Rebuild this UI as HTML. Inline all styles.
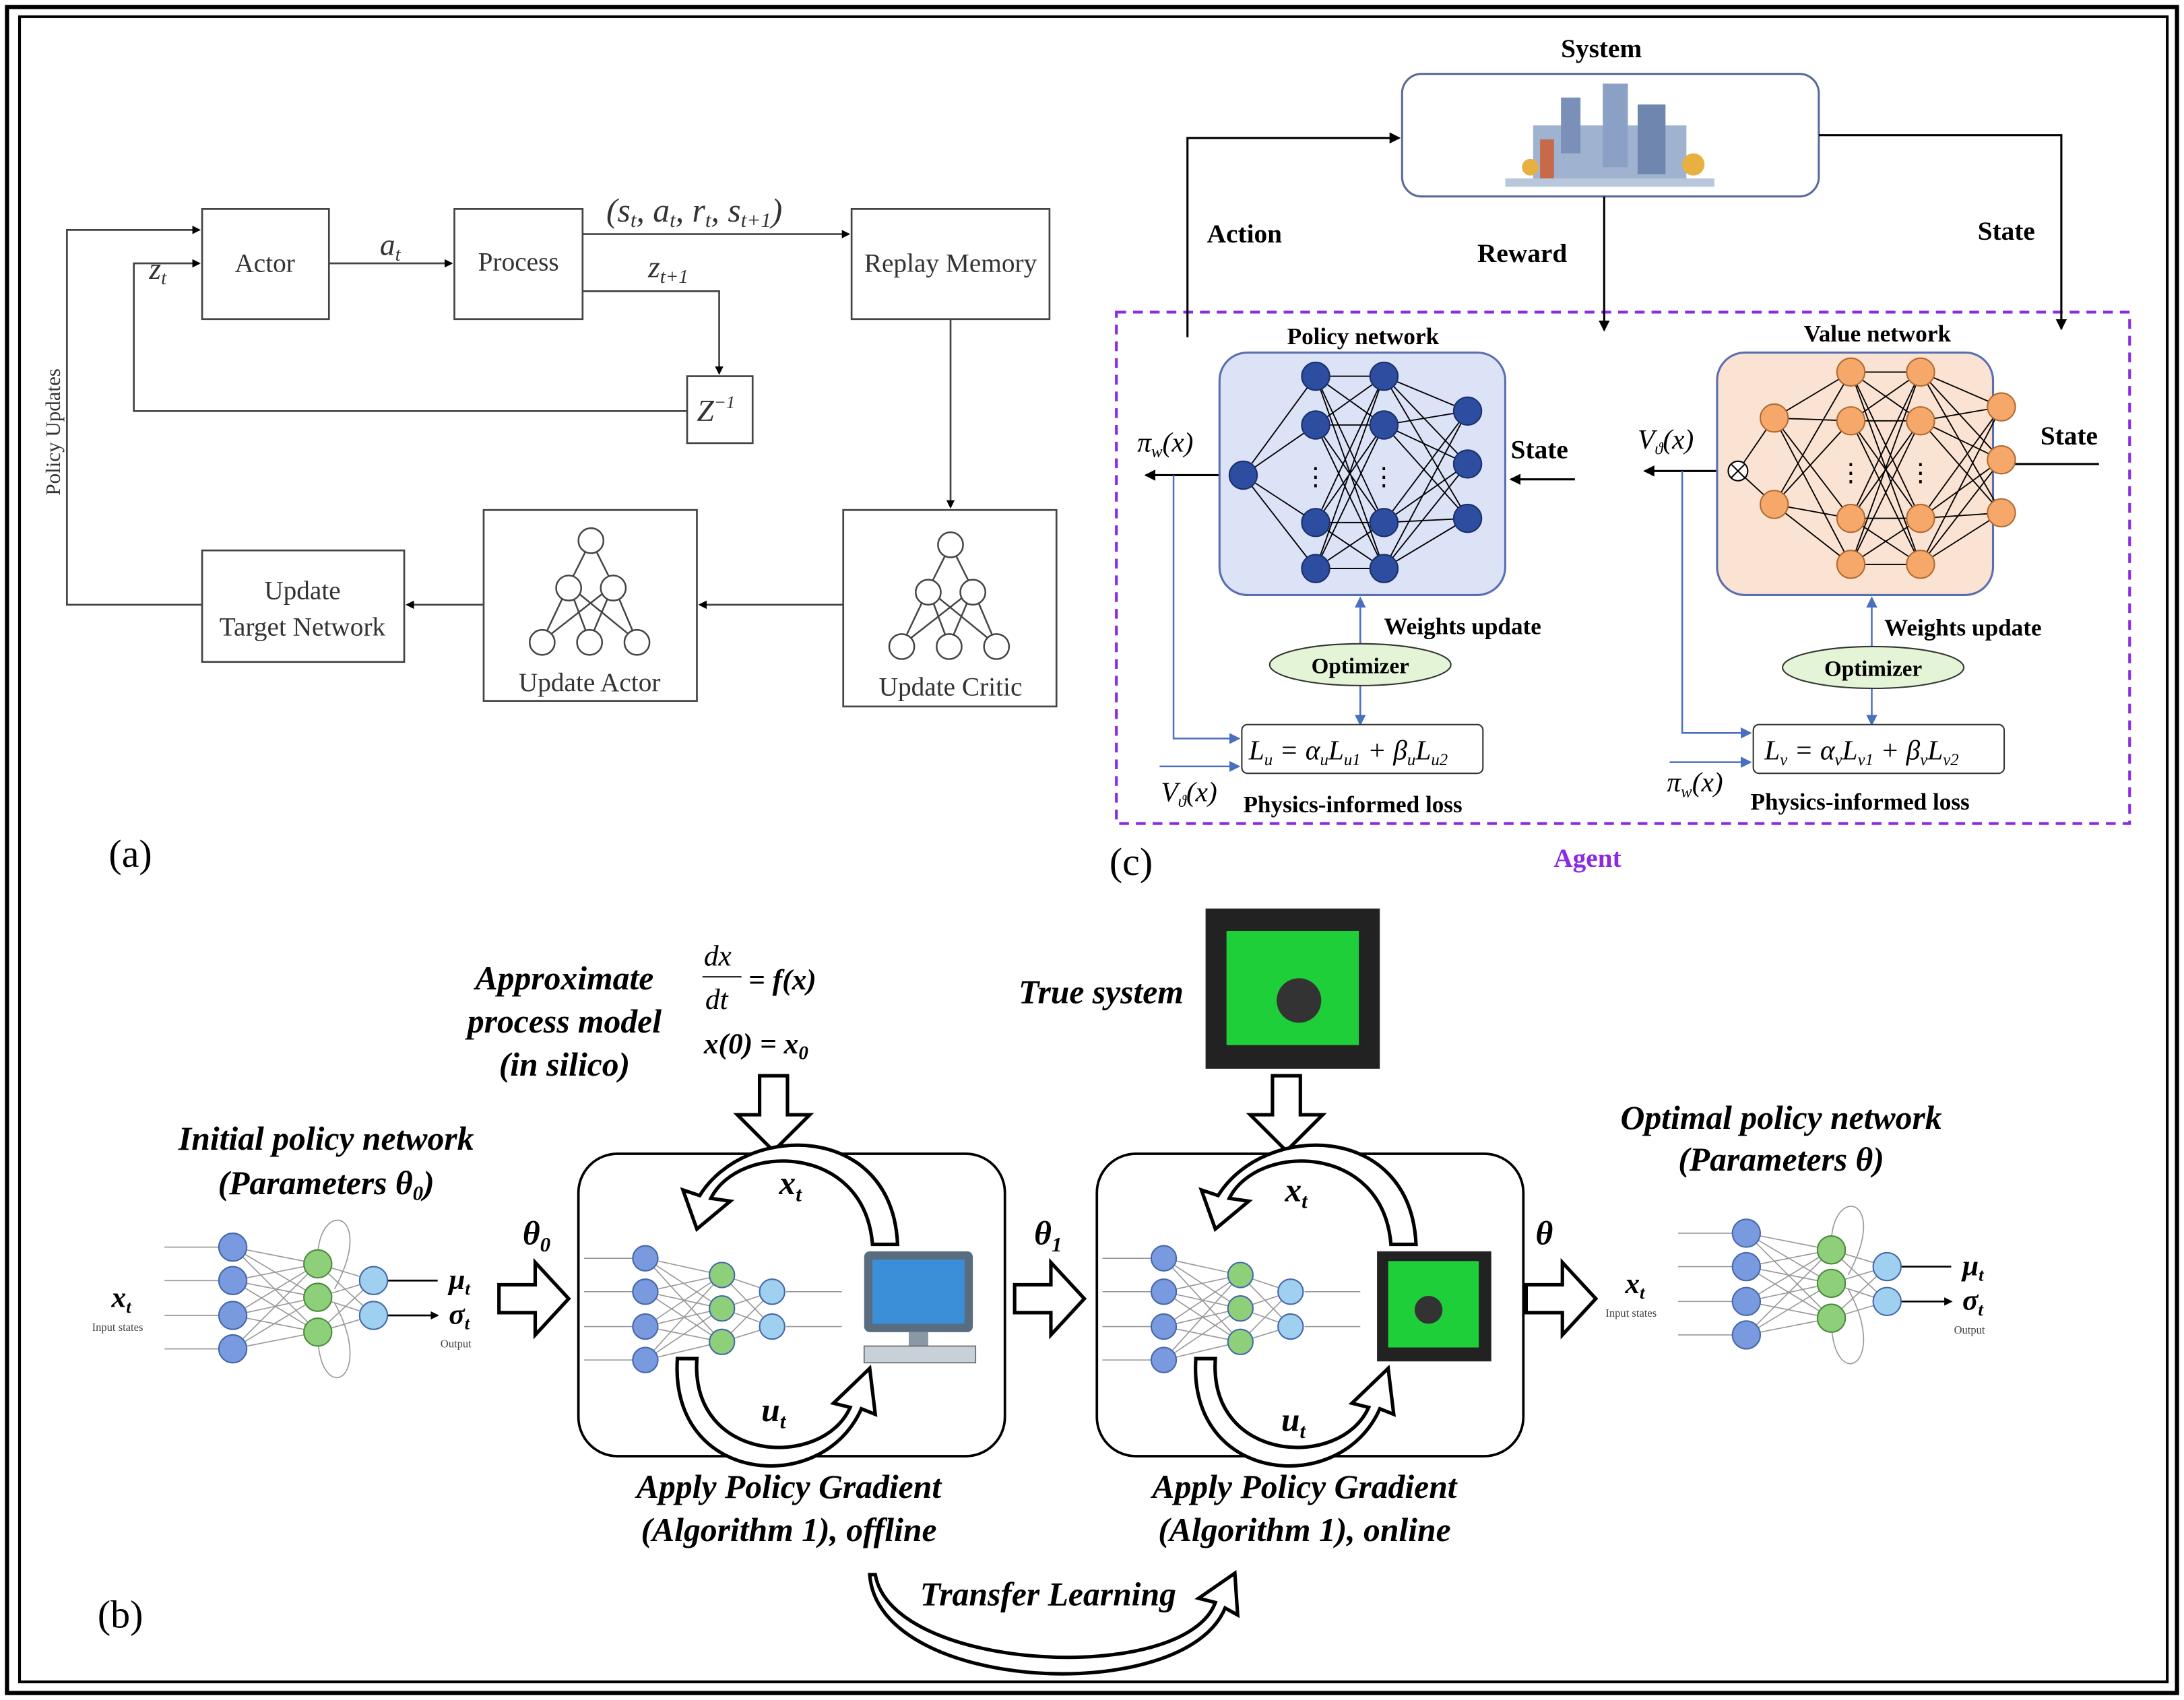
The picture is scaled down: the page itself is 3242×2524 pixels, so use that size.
<!DOCTYPE html>
<html><head><meta charset="utf-8"><style>
html,body{margin:0;padding:0;background:#fff}
svg{display:block}
text{font-family:"Liberation Serif",serif}
</style></head><body>
<svg width="3242" height="2524" viewBox="0 0 1567 1220" xmlns="http://www.w3.org/2000/svg">
<defs>
<marker id="ar" markerWidth="8" markerHeight="8" refX="7" refY="4" orient="auto" markerUnits="userSpaceOnUse"><path d="M0,0 L8,4 L0,8 z" fill="#000"/></marker>
<marker id="ab" markerWidth="8" markerHeight="8" refX="7" refY="4" orient="auto" markerUnits="userSpaceOnUse"><path d="M0,0 L8,4 L0,8 z" fill="#4a6fc0"/></marker>
<marker id="as" markerWidth="6" markerHeight="6" refX="5" refY="3" orient="auto" markerUnits="userSpaceOnUse"><path d="M0,0 L6,3 L0,6 z" fill="#000"/></marker>
</defs>
<rect x="0" y="0" width="1567" height="1220" fill="#fff"/>
<rect x="5" y="5" width="1557" height="1210" fill="none" stroke="#000" stroke-width="3"/>
<rect x="14" y="12" width="1541" height="1195" fill="none" stroke="#000" stroke-width="2"/>

<!-- Panel (a) -->
<g fill="none" stroke="#444" stroke-width="1.3">
<rect x="145" y="150" width="91" height="79"/>
<rect x="326" y="150" width="92" height="79"/>
<rect x="611" y="150" width="142" height="79"/>
<rect x="493" y="270" width="47" height="48"/>
<rect x="145" y="395" width="145" height="80"/>
<rect x="347" y="366" width="153" height="137"/>
<rect x="605" y="366" width="153" height="141"/>
<line x1="236" y1="189" x2="324" y2="189" marker-end="url(#as)"/>
<line x1="418" y1="168" x2="609" y2="168" marker-end="url(#as)"/>
<polyline points="418,209 516,209 516,268" marker-end="url(#as)"/>
<polyline points="493,295 96,295 96,189 143,189" marker-end="url(#as)"/>
<line x1="682" y1="229" x2="682" y2="364" marker-end="url(#as)"/>
<line x1="605" y1="434" x2="502" y2="434" marker-end="url(#as)"/>
<line x1="347" y1="434" x2="292" y2="434" marker-end="url(#as)"/>
<polyline points="145,434 48,434 48,165 143,165" marker-end="url(#as)"/>
</g>
<g font-size="19" fill="#333">
<text x="190" y="195" text-anchor="middle">Actor</text>
<text x="372" y="194" text-anchor="middle">Process</text>
<text x="682" y="195" text-anchor="middle">Replay Memory</text>
<text x="217" y="430" text-anchor="middle">Update</text>
<text x="217" y="456" text-anchor="middle">Target Network</text>
<text x="423" y="496" text-anchor="middle">Update Actor</text>
<text x="682" y="499" text-anchor="middle">Update Critic</text>
<text x="280" y="183" text-anchor="middle" font-style="italic" font-size="22">a<tspan font-size="14" dy="4">t</tspan></text>
<text x="107" y="200" font-style="italic" font-size="22">z<tspan font-size="14" dy="4">t</tspan></text>
<text x="465" y="199" font-style="italic" font-size="22">z<tspan font-size="14" dy="4">t+1</tspan></text>
<text x="500" y="302" font-style="italic" font-size="22">Z<tspan font-size="13" dy="-9">−1</tspan></text>
<text x="435" y="159" font-style="italic" font-size="24">(s<tspan font-size="15" dy="4">t</tspan><tspan dy="-4">, a</tspan><tspan font-size="15" dy="4">t</tspan><tspan dy="-4">, r</tspan><tspan font-size="15" dy="4">t</tspan><tspan dy="-4">, s</tspan><tspan font-size="15" dy="4">t+1</tspan><tspan dy="-4">)</tspan></text>
<text transform="translate(43,310) rotate(-90)" text-anchor="middle" font-size="15">Policy Updates</text>
</g>
<!-- tree icons -->
<g fill="#fff" stroke="#444" stroke-width="1.2">
<g id="tree">
<line x1="424" y1="388" x2="408" y2="420"/><line x1="424" y1="388" x2="440" y2="420"/>
<line x1="408" y1="420" x2="389" y2="460"/><line x1="408" y1="420" x2="423" y2="460"/><line x1="408" y1="420" x2="457" y2="460"/>
<line x1="440" y1="420" x2="389" y2="460"/><line x1="440" y1="420" x2="423" y2="460"/><line x1="440" y1="420" x2="457" y2="460"/>
<circle cx="424" cy="388" r="9"/><circle cx="408" cy="422" r="9"/><circle cx="440" cy="422" r="9"/>
<circle cx="389" cy="461" r="9"/><circle cx="423" cy="461" r="9"/><circle cx="457" cy="461" r="9"/>
</g>
<use href="#tree" x="258" y="3"/>
</g>
<text x="78" y="622" font-size="28">(a)</text>

<!-- Panel (c) -->
<rect x="1006" y="53" width="299" height="88" rx="14" fill="#fff" stroke="#5a6a9a" stroke-width="1.5"/>
<g>
<rect x="1100" y="90" width="110" height="42" fill="#9fb3d0"/>
<rect x="1120" y="70" width="14" height="40" fill="#7a90b8"/>
<rect x="1150" y="60" width="18" height="60" fill="#8aa0c4"/>
<rect x="1175" y="75" width="20" height="50" fill="#6f86ae"/>
<rect x="1105" y="100" width="10" height="30" fill="#c76a4a"/>
<circle cx="1215" cy="118" r="8" fill="#e8b040"/>
<circle cx="1098" cy="120" r="6" fill="#e8b040"/>
<rect x="1080" y="128" width="150" height="6" fill="#b9c7dc"/>
</g>
<text x="1149" y="41" font-size="19" font-weight="bold" text-anchor="middle">System</text>
<rect x="801" y="224" width="727" height="367" fill="none" stroke="#8a2be2" stroke-width="2" stroke-dasharray="7,5"/>
<text x="1139" y="622" font-size="19" font-weight="bold" fill="#8a2be2" text-anchor="middle">Agent</text>
<g stroke="#000" stroke-width="1.5" fill="none">
<polyline points="852,242 852,99 1004,99" marker-end="url(#ar)"/>
<polyline points="1305,97 1479,97 1479,236" marker-end="url(#ar)"/>
<line x1="1151" y1="141" x2="1151" y2="237" marker-end="url(#ar)"/>
<line x1="1130" y1="344" x2="1084" y2="344" marker-end="url(#ar)"/>
<line x1="1506" y1="333" x2="1434" y2="333" marker-end="url(#ar)"/>
<line x1="892" y1="341" x2="822" y2="341" marker-end="url(#ar)"/>
<line x1="1240" y1="338" x2="1180" y2="338" marker-end="url(#ar)"/>
</g>
<g font-size="19" font-weight="bold">
<text x="866" y="174">Action</text><text x="1060" y="188">Reward</text><text x="1419" y="172">State</text>
<text x="1084" y="329">State</text><text x="1464" y="319">State</text>
<text x="978" y="247" font-size="17" text-anchor="middle">Policy network</text>
<text x="1347" y="245" font-size="17" text-anchor="middle">Value network</text>
<text x="993" y="455" font-size="17">Weights update</text>
<text x="1352" y="456" font-size="17">Weights update</text>
<text x="892" y="583" font-size="17">Physics-informed loss</text>
<text x="1256" y="581" font-size="17">Physics-informed loss</text>
</g>
<rect x="875" y="253" width="205" height="174" rx="20" fill="#dce3f7" stroke="#5a6fb0" stroke-width="1.5"/>
<rect x="1232" y="253" width="198" height="174" rx="20" fill="#fbe3d3" stroke="#5a6fb0" stroke-width="1.5"/>
<g stroke="#000" stroke-width="0.9">
<path d="M892,341 L944,270 M892,341 L944,305 M892,341 L944,375 M892,341 L944,408
M944,270 L993,270 M944,270 L993,305 M944,270 L993,375 M944,270 L993,408
M944,305 L993,270 M944,305 L993,305 M944,305 L993,375 M944,305 L993,408
M944,375 L993,270 M944,375 L993,305 M944,375 L993,375 M944,375 L993,408
M944,408 L993,270 M944,408 L993,305 M944,408 L993,375 M944,408 L993,408
M993,270 L1053,295 M993,270 L1053,333 M993,270 L1053,372 M993,305 L1053,295 M993,305 L1053,333 M993,305 L1053,372
M993,375 L1053,295 M993,375 L1053,333 M993,375 L1053,372 M993,408 L1053,295 M993,408 L1053,333 M993,408 L1053,372"/>
<path d="M1247,338 L1273,300 M1247,338 L1273,362
M1273,300 L1328,267 M1273,300 L1328,302 M1273,300 L1328,372 M1273,300 L1328,405
M1273,362 L1328,267 M1273,362 L1328,302 M1273,362 L1328,372 M1273,362 L1328,405
M1328,267 L1378,267 M1328,267 L1378,302 M1328,267 L1378,372 M1328,267 L1378,405
M1328,302 L1378,267 M1328,302 L1378,302 M1328,302 L1378,372 M1328,302 L1378,405
M1328,372 L1378,267 M1328,372 L1378,302 M1328,372 L1378,372 M1328,372 L1378,405
M1328,405 L1378,267 M1328,405 L1378,302 M1328,405 L1378,372 M1328,405 L1378,405
M1378,267 L1436,292 M1378,267 L1436,330 M1378,267 L1436,368 M1378,302 L1436,292 M1378,302 L1436,330 M1378,302 L1436,368
M1378,372 L1436,292 M1378,372 L1436,330 M1378,372 L1436,368 M1378,405 L1436,292 M1378,405 L1436,330 M1378,405 L1436,368"/>
</g>
<g fill="#2d4ea0" stroke="#1a2f6a" stroke-width="1">
<circle cx="892" cy="341" r="10"/>
<circle cx="944" cy="270" r="10"/><circle cx="944" cy="305" r="10"/><circle cx="944" cy="375" r="10"/><circle cx="944" cy="408" r="10"/>
<circle cx="993" cy="270" r="10"/><circle cx="993" cy="305" r="10"/><circle cx="993" cy="375" r="10"/><circle cx="993" cy="408" r="10"/>
<circle cx="1053" cy="295" r="10"/><circle cx="1053" cy="333" r="10"/><circle cx="1053" cy="372" r="10"/>
</g>
<g fill="#f6a86a" stroke="#b06a30" stroke-width="1">
<circle cx="1273" cy="300" r="10"/><circle cx="1273" cy="362" r="10"/>
<circle cx="1328" cy="267" r="10"/><circle cx="1328" cy="302" r="10"/><circle cx="1328" cy="372" r="10"/><circle cx="1328" cy="405" r="10"/>
<circle cx="1378" cy="267" r="10"/><circle cx="1378" cy="302" r="10"/><circle cx="1378" cy="372" r="10"/><circle cx="1378" cy="405" r="10"/>
<circle cx="1436" cy="292" r="10"/><circle cx="1436" cy="330" r="10"/><circle cx="1436" cy="368" r="10"/>
</g>
<circle cx="1247" cy="338" r="7" fill="#fff" stroke="#000"/>
<path d="M1242,333 L1252,343 M1252,333 L1242,343" stroke="#000"/>
<g font-size="18" text-anchor="middle"><text x="944" y="348">⋮</text><text x="993" y="348">⋮</text><text x="1328" y="345">⋮</text><text x="1378" y="345">⋮</text></g>
<g stroke="#4a6fc0" stroke-width="1.2" fill="none">
<line x1="976" y1="492" x2="976" y2="520" marker-end="url(#ab)"/>
<line x1="976" y1="462" x2="976" y2="429" marker-end="url(#ab)"/>
<line x1="1343" y1="494" x2="1343" y2="520" marker-end="url(#ab)"/>
<line x1="1343" y1="464" x2="1343" y2="429" marker-end="url(#ab)"/>
<polyline points="842,341 842,530 889,530" marker-end="url(#ab)"/>
<line x1="832" y1="550" x2="889" y2="550" marker-end="url(#ab)"/>
<polyline points="1207,338 1207,526 1256,526" marker-end="url(#ab)"/>
<line x1="1198" y1="547" x2="1256" y2="547" marker-end="url(#ab)"/>
</g>
<ellipse cx="976" cy="477" rx="65" ry="15" fill="#e4f4d6" stroke="#333"/>
<ellipse cx="1344" cy="479" rx="65" ry="15" fill="#e4f4d6" stroke="#333"/>
<text x="976" y="483" font-size="16" font-weight="bold" text-anchor="middle">Optimizer</text>
<text x="1344" y="485" font-size="16" font-weight="bold" text-anchor="middle">Optimizer</text>
<rect x="891" y="520" width="173" height="35" rx="4" fill="#fff" stroke="#333"/>
<rect x="1258" y="520" width="180" height="35" rx="4" fill="#fff" stroke="#333"/>
<g font-style="italic" font-size="20">
<text x="896" y="545">L<tspan font-size="12" dy="4">u</tspan><tspan dy="-4"> = α</tspan><tspan font-size="12" dy="4">u</tspan><tspan dy="-4">L</tspan><tspan font-size="12" dy="4">u1</tspan><tspan dy="-4"> + β</tspan><tspan font-size="12" dy="4">u</tspan><tspan dy="-4">L</tspan><tspan font-size="12" dy="4">u2</tspan></text>
<text x="1266" y="545">L<tspan font-size="12" dy="4">v</tspan><tspan dy="-4"> = α</tspan><tspan font-size="12" dy="4">v</tspan><tspan dy="-4">L</tspan><tspan font-size="12" dy="4">v1</tspan><tspan dy="-4"> + β</tspan><tspan font-size="12" dy="4">v</tspan><tspan dy="-4">L</tspan><tspan font-size="12" dy="4">v2</tspan></text>
<text x="816" y="324">π<tspan font-size="12" dy="4">w</tspan><tspan dy="-4">(x)</tspan></text>
<text x="1175" y="322">V<tspan font-size="12" dy="4">ϑ</tspan><tspan dy="-4">(x)</tspan></text>
<text x="833" y="575">V<tspan font-size="12" dy="4">ϑ</tspan><tspan dy="-4">(x)</tspan></text>
<text x="1196" y="568">π<tspan font-size="12" dy="4">w</tspan><tspan dy="-4">(x)</tspan></text>
</g>
<text x="796" y="628" font-size="28">(c)</text>

<!-- Panel (b) -->
<g font-style="italic" font-weight="bold" font-size="24" text-anchor="middle">
<text x="405" y="710">Approximate</text><text x="405" y="741">process model</text><text x="405" y="772">(in silico)</text>
<text x="790" y="720">True system</text>
<text x="234" y="825">Initial policy network</text><text x="234" y="857">(Parameters θ<tspan font-size="15" dy="4">0</tspan><tspan dy="-4">)</tspan></text>
<text x="1278" y="810">Optimal policy network</text><text x="1278" y="840">(Parameters θ)</text>
<text x="566" y="1075">Apply Policy Gradient</text><text x="566" y="1106">(Algorithm 1), offline</text>
<text x="936" y="1075">Apply Policy Gradient</text><text x="936" y="1106">(Algorithm 1), online</text>
<text x="752" y="1152">Transfer Learning</text>
<text x="385" y="893">θ<tspan font-size="15" dy="5">0</tspan></text>
<text x="752" y="893">θ<tspan font-size="15" dy="5">1</tspan></text>
<text x="1108" y="893">θ</text>
<text x="567" y="857">x<tspan font-size="15" dy="5">t</tspan></text><text x="930" y="862">x<tspan font-size="15" dy="5">t</tspan></text>
<text x="555" y="1020">u<tspan font-size="15" dy="5">t</tspan></text><text x="928" y="1027">u<tspan font-size="15" dy="5">t</tspan></text>
</g>
<g font-size="21" font-family="Liberation Serif">
<text x="505" y="693" font-style="italic">dx</text><line x1="504" y1="701" x2="532" y2="701" stroke="#000"/><text x="506" y="724" font-style="italic">dt</text>
<text x="537" y="710" font-style="italic" font-weight="bold">= f(x)</text>
<text x="505" y="756" font-style="italic" font-weight="bold">x(0) = x<tspan font-size="14" dy="4">0</tspan></text>
</g>
<rect x="415" y="828" width="306" height="217" rx="28" fill="none" stroke="#000" stroke-width="1.8"/>
<rect x="787" y="828" width="306" height="217" rx="28" fill="none" stroke="#000" stroke-width="1.8"/>
<rect x="865" y="652" width="125" height="115" fill="#222"/>
<rect x="880" y="668" width="95" height="82" fill="#1fcf3a"/>
<circle cx="932" cy="718" r="16" fill="#333"/>
<rect x="988" y="898" width="82" height="79" fill="#222"/>
<rect x="996" y="905" width="65" height="62" fill="#1fcf3a"/>
<circle cx="1025" cy="940" r="10" fill="#333"/>
<!-- monitor -->
<rect x="620" y="898" width="78" height="58" rx="4" fill="#5a6d80"/>
<rect x="626" y="904" width="66" height="46" fill="#3a8fd8"/>
<rect x="652" y="956" width="14" height="10" fill="#8a98a5"/>
<rect x="620" y="966" width="80" height="12" fill="#c8d0d8" stroke="#666" stroke-width="0.8"/>
<!-- hollow arrows -->
<g fill="#fff" stroke="#000" stroke-width="2.5" stroke-linejoin="miter">
<path d="M545,772 h20 v28 h16 l-26,26 l-26,-26 h16 z"/>
<path d="M913,772 h20 v28 h16 l-26,26 l-26,-26 h16 z"/>
<path d="M358,922 h26 v-16 l24,26 l-24,26 v-16 h-26 z"/>
<path d="M728,922 h26 v-16 l24,26 l-24,26 v-16 h-26 z"/>
<path d="M1095,922 h26 v-16 l24,26 l-24,26 v-16 h-26 z"/>
<path d="M626,893 C620,820 530,820 510,860 l14,2 l-24,20 l-10,-28 l12,4 C535,805 640,805 644,893 z"/>
<path d="M998,893 C992,820 902,820 882,860 l14,2 l-24,20 l-10,-28 l12,4 C907,805 1012,805 1016,893 z"/>
<path d="M500,975 C495,1050 590,1055 610,1010 l-12,-3 l26,-25 l4,33 l-10,-4 C590,1075 480,1065 486,975 z"/>
<path d="M872,975 C867,1050 962,1055 982,1010 l-12,-3 l26,-25 l4,33 l-10,-4 C962,1075 852,1065 858,975 z"/>
<path d="M628,1130 C640,1200 850,1210 872,1150 l-12,-3 l26,-18 l2,30 l-9,-5 C850,1225 630,1215 624,1130 z"/>
</g>
<!-- small networks -->
<g id="snet">
<g stroke="#999" stroke-width="0.8" fill="none">
<path d="M118,895 h40 M118,919 h40 M118,944 h40 M118,968 h40
M167,895 L228,907 M167,895 L228,931 M167,895 L228,956 M167,919 L228,907 M167,919 L228,931 M167,919 L228,956
M167,944 L228,907 M167,944 L228,931 M167,944 L228,956 M167,968 L228,907 M167,968 L228,931 M167,968 L228,956
M228,907 L268,919 M228,907 L268,944 M228,931 L268,919 M228,931 L268,944 M228,956 L268,919 M228,956 L268,944"/>
<path d="M228,900 C230,860 270,870 240,925 M228,960 C230,1010 270,990 240,935"/>
</g>
<path d="M278,919 h36 M278,944 h36" stroke="#000" stroke-width="1.3" marker-end="url(#as)"/>
<g stroke="#4466aa" stroke-width="1">
<circle cx="167" cy="895" r="10" fill="#7a9ae0"/><circle cx="167" cy="919" r="10" fill="#7a9ae0"/><circle cx="167" cy="944" r="10" fill="#7a9ae0"/><circle cx="167" cy="968" r="10" fill="#7a9ae0"/>
<circle cx="228" cy="907" r="10" fill="#8ed07a" stroke="#4a8a3a"/><circle cx="228" cy="931" r="10" fill="#8ed07a" stroke="#4a8a3a"/><circle cx="228" cy="956" r="10" fill="#8ed07a" stroke="#4a8a3a"/>
<circle cx="268" cy="919" r="10" fill="#9fd0f0"/><circle cx="268" cy="944" r="10" fill="#9fd0f0"/>
</g>
</g>
<use href="#snet" x="1086" y="-10"/>
<g transform="translate(296,-4)"><g stroke="#999" stroke-width="0.8" fill="none">
<path d="M123,907 h40 M123,931 h40 M123,956 h40 M123,980 h40
M167,907 L222,919 M167,907 L222,943 M167,907 L222,967 M167,931 L222,919 M167,931 L222,943 M167,931 L222,967
M167,956 L222,919 M167,956 L222,943 M167,956 L222,967 M167,980 L222,919 M167,980 L222,943 M167,980 L222,967
M222,919 L258,931 M222,919 L258,956 M222,943 L258,931 M222,943 L258,956 M222,967 L258,931 M222,967 L258,956
M268,931 h40 M268,956 h40"/></g>
<g stroke="#4466aa"><circle cx="167" cy="907" r="9" fill="#7a9ae0"/><circle cx="167" cy="931" r="9" fill="#7a9ae0"/><circle cx="167" cy="956" r="9" fill="#7a9ae0"/><circle cx="167" cy="980" r="9" fill="#7a9ae0"/>
<circle cx="222" cy="919" r="9" fill="#8ed07a"/><circle cx="222" cy="943" r="9" fill="#8ed07a"/><circle cx="222" cy="967" r="9" fill="#8ed07a"/>
<circle cx="258" cy="931" r="9" fill="#9fd0f0"/><circle cx="258" cy="956" r="9" fill="#9fd0f0"/></g></g>
<use href="#snet2" />
<g transform="translate(668,-4)"><g stroke="#999" stroke-width="0.8" fill="none">
<path d="M123,907 h40 M123,931 h40 M123,956 h40 M123,980 h40
M167,907 L222,919 M167,907 L222,943 M167,907 L222,967 M167,931 L222,919 M167,931 L222,943 M167,931 L222,967
M167,956 L222,919 M167,956 L222,943 M167,956 L222,967 M167,980 L222,919 M167,980 L222,943 M167,980 L222,967
M222,919 L258,931 M222,919 L258,956 M222,943 L258,931 M222,943 L258,956 M222,967 L258,931 M222,967 L258,956
M268,931 h40 M268,956 h40"/></g>
<g stroke="#4466aa"><circle cx="167" cy="907" r="9" fill="#7a9ae0"/><circle cx="167" cy="931" r="9" fill="#7a9ae0"/><circle cx="167" cy="956" r="9" fill="#7a9ae0"/><circle cx="167" cy="980" r="9" fill="#7a9ae0"/>
<circle cx="222" cy="919" r="9" fill="#8ed07a"/><circle cx="222" cy="943" r="9" fill="#8ed07a"/><circle cx="222" cy="967" r="9" fill="#8ed07a"/>
<circle cx="258" cy="931" r="9" fill="#9fd0f0"/><circle cx="258" cy="956" r="9" fill="#9fd0f0"/></g></g>
<g font-style="italic" font-weight="bold" font-size="21">
<text x="80" y="938">x<tspan font-size="13" dy="4">t</tspan></text>
<text x="322" y="925">μ<tspan font-size="13" dy="4">t</tspan></text><text x="322" y="950">σ<tspan font-size="13" dy="4">t</tspan></text>
<text x="1166" y="928">x<tspan font-size="13" dy="4">t</tspan></text>
<text x="1408" y="915">μ<tspan font-size="13" dy="4">t</tspan></text><text x="1408" y="940">σ<tspan font-size="13" dy="4">t</tspan></text>
</g>
<g font-size="8" fill="#444"><text x="66" y="955">Input states</text><text x="316" y="967">Output</text><text x="1152" y="945">Input states</text><text x="1402" y="957">Output</text></g>
<text x="70" y="1168" font-size="28">(b)</text>
</svg>
</body></html>
